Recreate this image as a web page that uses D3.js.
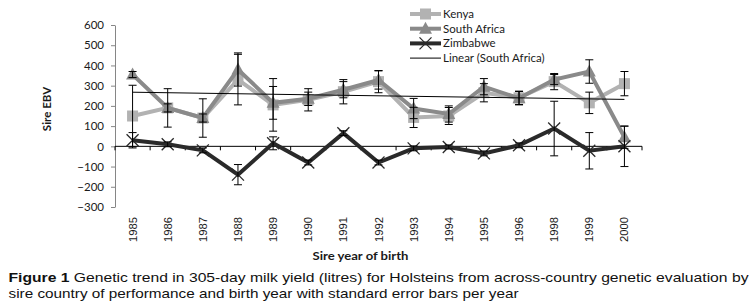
<!DOCTYPE html>
<html>
<head>
<meta charset="utf-8">
<script src="https://cdn.jsdelivr.net/npm/d3@7"></script>
<style>
  body { margin: 0; background: #fff; }
  svg { display: block; }
</style>
</head>
<body>
<svg id="chart" width="756" height="307"></svg>
<script>
// data
const years = ['1985', '1986', '1987', '1988', '1989', '1990', '1991', '1992', '1993', '1994', '1995', '1996', '1998', '1999', '2000'];
const kenya = [150, 190, 140, 330, 205, 230, 270, 320, 143, 150, 265, 240, 320, 215, 310];
const southAfrica = [355, 190, 140, 380, 215, 235, 280, 328, 187, 160, 295, 238, 330, 370, 45];
const zimbabwe = [30, 10, -20, -140, 15, -80, 65, -80, -10, -3, -35, 5, 88, -22, 0];
// standard errors (half length of the bars)
const kenyaSE = [152, 95, 95, 125, 130, 55, 60, 55, 50, 42, 45, 33, 40, 53, 60];
const southAfricaSE = [15, 20, 20, 82, 81, 33, 40, 45, 50, 40, 40, 33, 25, 58, 55];
const zimbabweSE = [38, 12, 12, 50, 32, 12, 12, 12, 12, 10, 12, 12, 135, 90, 100];
const yTicks = [-300, -200, -100, 0, 100, 200, 300, 400, 500, 600];

const svg = d3.select('#chart');

const x = d3.scaleBand().domain(years).range([115, 642]).padding(0);
const y = d3.scaleLinear().domain([-300, 600]).range([207, 25]);
const cx = d => x(d) + x.bandwidth() / 2;

const series = [
  { name: 'Kenya', values: kenya, se: kenyaSE, color: '#b2b2b2', marker: 'square' },
  { name: 'South Africa', values: southAfrica, se: southAfricaSE, color: '#8a8a8a', marker: 'triangle' },
  { name: 'Zimbabwe', values: zimbabwe, se: zimbabweSE, color: '#2a2a2a', marker: 'cross' }
];

// y axis
const yAxis = svg.append('g')
  .attr('transform', 'translate(115,0)')
  .call(d3.axisLeft(y).tickValues(yTicks).tickSize(4).tickSizeOuter(0).tickPadding(7));
yAxis.select('.domain').attr('stroke', '#868686');
yAxis.selectAll('.tick line').attr('stroke', '#868686');
yAxis.selectAll('text')
  .attr('font-family', 'Lato, sans-serif')
  .attr('font-size', 11.5)
  .attr('fill', '#1a1a1a');

// x axis sits on zero
const bounds = years.map(d => x(d)).concat([x.range()[1]]);
svg.append('line')
  .attr('x1', x.range()[0]).attr('x2', x.range()[1])
  .attr('y1', y(0)).attr('y2', y(0))
  .attr('stroke', '#000').attr('stroke-width', 1);
svg.selectAll('.xtick').data(bounds).enter().append('line')
  .attr('class', 'xtick')
  .attr('x1', d => d).attr('x2', d => d)
  .attr('y1', y(0)).attr('y2', y(0) + 4)
  .attr('stroke', '#000');

svg.selectAll('.year').data(years).enter().append('text')
  .attr('class', 'year')
  .attr('transform', d => `translate(${cx(d) + 4},217) rotate(-90)`)
  .attr('text-anchor', 'end')
  .attr('font-family', 'Liberation Sans, Arial, sans-serif')
  .attr('font-size', 11)
  .attr('textLength', 25)
  .attr('lengthAdjust', 'spacingAndGlyphs')
  .attr('fill', '#1a1a1a')
  .text(d => d);

// axis titles
svg.append('text')
  .attr('transform', `translate(51,${(y(600) + y(-300)) / 2 - 7}) rotate(-90)`)
  .attr('text-anchor', 'middle')
  .attr('font-family', 'Lato, sans-serif')
  .attr('font-weight', 'bold')
  .attr('font-size', 11.5)
  .attr('fill', '#1a1a1a')
  .text('Sire EBV');

svg.append('text')
  .attr('x', 312.5).attr('y', 260)
  .attr('font-family', 'Lato, sans-serif')
  .attr('font-weight', 'bold')
  .attr('font-size', 12)
  .attr('textLength', 96)
  .attr('lengthAdjust', 'spacingAndGlyphs')
  .attr('fill', '#1a1a1a')
  .text('Sire year of birth');

// marker drawing
function drawMarker(g, type, color, px, py) {
  if (type === 'square') {
    g.append('rect')
      .attr('x', px - 5.5).attr('y', py - 5.5)
      .attr('width', 11).attr('height', 11)
      .attr('fill', color);
  } else if (type === 'triangle') {
    g.append('path')
      .attr('d', `M${px},${py - 7}L${px + 6.5},${py + 5}L${px - 6.5},${py + 5}Z`)
      .attr('fill', color);
  } else {
    g.append('path')
      .attr('d', `M${px - 6},${py - 6}L${px + 6},${py + 6}M${px - 6},${py + 6}L${px + 6},${py - 6}`)
      .attr('stroke', color).attr('stroke-width', 1.3).attr('fill', 'none');
  }
}

// linear trend for South Africa
const n = southAfrica.length;
const idx = d3.range(1, n + 1);
const mx = d3.mean(idx), my = d3.mean(southAfrica);
const slope = d3.sum(idx, (i, k) => (i - mx) * (southAfrica[k] - my)) / d3.sum(idx, i => (i - mx) * (i - mx));
const icept = my - slope * mx;

// series lines and markers
const line = d3.line().x((d, i) => cx(years[i])).y(d => y(d));
series.forEach(s => {
  const g = svg.append('g');
  g.append('path')
    .datum(s.values)
    .attr('d', line)
    .attr('fill', 'none')
    .attr('stroke', s.color)
    .attr('stroke-width', 4)
    .attr('stroke-linejoin', 'miter');
  s.values.forEach((v, i) => drawMarker(g, s.marker, s.color, cx(years[i]), y(v)));
});

svg.append('line')
  .attr('x1', cx(years[0])).attr('x2', cx(years[n - 1]))
  .attr('y1', y(icept + slope * 1)).attr('y2', y(icept + slope * n))
  .attr('stroke', '#000').attr('stroke-width', 1);

// error bars
series.forEach(s => {
  const g = svg.append('g').attr('stroke', '#000').attr('stroke-width', 1);
  s.values.forEach((v, i) => {
    const px = cx(years[i]);
    const top = y(v + s.se[i]), bot = y(v - s.se[i]);
    g.append('line').attr('x1', px).attr('x2', px).attr('y1', top).attr('y2', bot);
    g.append('line').attr('x1', px - 4).attr('x2', px + 4).attr('y1', top).attr('y2', top);
    g.append('line').attr('x1', px - 4).attr('x2', px + 4).attr('y1', bot).attr('y2', bot);
  });
});

// legend
const legendNames = series.map(s => s.name).concat(['Linear (South Africa)']);
const legend = svg.append('g');
legendNames.forEach((name, i) => {
  const ly = 14 + i * 14.7;
  const s = series[i];
  if (s) {
    legend.append('line')
      .attr('x1', 410).attr('x2', 441).attr('y1', ly).attr('y2', ly)
      .attr('stroke', s.color).attr('stroke-width', 4);
    drawMarker(legend, s.marker, s.color, 425.5, ly);
  } else {
    legend.append('line')
      .attr('x1', 410).attr('x2', 441).attr('y1', ly).attr('y2', ly)
      .attr('stroke', '#000').attr('stroke-width', 1);
  }
  legend.append('text')
    .attr('x', 443).attr('y', ly + 4)
    .attr('font-family', 'Lato, sans-serif')
    .attr('font-size', 11.5)
    .attr('fill', '#1a1a1a')
    .text(name);
});

// caption
const cap = svg.append('g')
  .attr('font-family', 'Liberation Sans, Arial, sans-serif')
  .attr('font-size', 13.5)
  .attr('fill', '#111');
const c1 = cap.append('text').attr('x', 8.5).attr('y', 282)
  .attr('textLength', 740).attr('lengthAdjust', 'spacingAndGlyphs');
c1.append('tspan').attr('font-weight', 'bold').text('Figure 1');
c1.append('tspan').text(' Genetic trend in 305-day milk yield (litres) for Holsteins from across-country genetic evaluation by');
cap.append('text').attr('x', 8.5).attr('y', 298)
  .attr('textLength', 510).attr('lengthAdjust', 'spacingAndGlyphs')
  .text('sire country of performance and birth year with standard error bars per year');
</script>
</body>
</html>
